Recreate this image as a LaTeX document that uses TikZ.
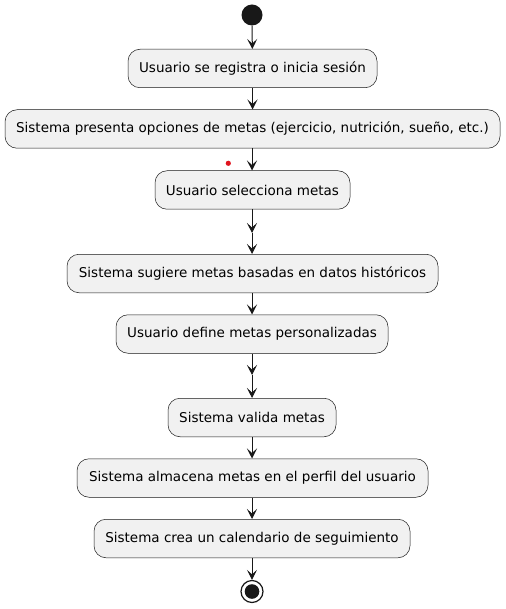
\documentclass[tikz,border=0pt]{standalone}
\usepackage{fontspec}
\setmainfont{DejaVu Sans}
\usetikzlibrary{arrows.meta}
\definecolor{boxfill}{HTML}{F1F1F1}
\definecolor{boxline}{HTML}{181818}
\definecolor{dotred}{HTML}{E0141E}
\tikzset{
  act/.style={draw=boxline, line width=0.5pt, fill=boxfill, rounded corners=12pt,
    minimum height=38.5pt, inner sep=0pt, font=\fontsize{13.5}{16}\selectfont, text=black},
  flow/.style={draw=boxline, line width=1pt, -{Stealth[length=10pt,width=10pt,inset=4.5pt]}},
}
\begin{document}
\begin{tikzpicture}[x=1pt,y=-1pt]
\useasboundingbox (0,0) rectangle (505,609);
\node[circle, fill=boxline, minimum size=21pt, inner sep=0pt] (start) at (252,15) {};
\node[act, minimum width=249pt] (a1) at (252.5,68.5) {Usuario se registra o inicia sesión};
\node[act, minimum width=495pt] (a2) at (252.5,129) {Sistema presenta opciones de metas (ejercicio, nutrición, sueño, etc.)};
\node[act, minimum width=195pt] (a3) at (252.5,190) {Usuario selecciona metas};
\node[act, minimum width=371pt] (a4) at (252.5,273.5) {Sistema sugiere metas basadas en datos históricos};
\node[act, minimum width=272pt] (a5) at (252,334) {Usuario define metas personalizadas};
\node[act, minimum width=168pt] (a6) at (252,417.5) {Sistema valida metas};
\node[act, minimum width=351pt] (a7) at (252.5,478) {Sistema almacena metas en el perfil del usuario};
\node[act, minimum width=316pt] (a8) at (252,538.5) {Sistema crea un calendario de seguimiento};
\node[circle, draw=boxline, line width=1.2pt, fill=white, minimum size=22pt, inner sep=0pt] (stop) at (252,591.5) {};
\fill[boxline] (stop.center) circle (7.3pt);
\fill[dotred] (228.3,163.3) circle (2.6pt);
\coordinate (m1) at (252,233);
\coordinate (m2) at (252,375);
\draw[flow] (start) -- (a1);
\draw[flow] (a1) -- (a2);
\draw[flow] (a2.south -| 252,0) -- (a3.north -| 252,0);
\draw[flow] (a3.south -| 252,0) -- (m1);
\draw[flow] (m1) -- (a4.north -| 252,0);
\draw[flow] (a4.south -| 252,0) -- (a5);
\draw[flow] (a5) -- (m2);
\draw[flow] (m2) -- (a6);
\draw[flow] (a6) -- (a7.north -| 252,0);
\draw[flow] (a7.south -| 252,0) -- (a8);
\draw[flow] (a8) -- (stop);
\end{tikzpicture}
\end{document}
